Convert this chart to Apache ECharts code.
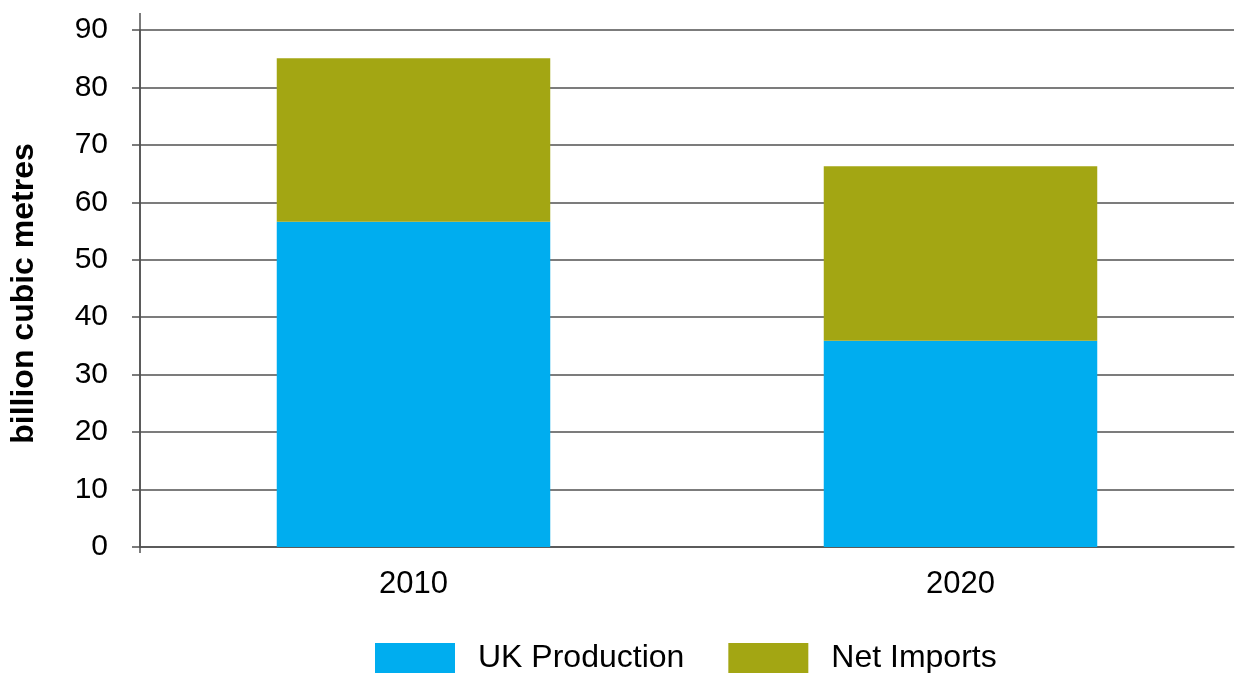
<!DOCTYPE html>
<html>
<head>
<meta charset="utf-8">
<script src="https://cdn.jsdelivr.net/npm/echarts@6/dist/echarts.min.js"></script>
<style>
html,body{margin:0;padding:0;background:#fff;}
#chart{width:1240px;height:673px;}
</style>
</head>
<body>
<div id="chart"></div>
<script>
var categories = ['2010', '2020'];
var ukProduction = [56.6, 35.9];
var netImports = [28.5, 30.4];
var seriesNames = ['UK Production', 'Net Imports'];
var yTicks = {min: 0, max: 90, interval: 10};
var yTitle = 'billion cubic metres';

var FONT = '"Liberation Sans", Arial, sans-serif';
var AXIS = '#505050';

var chart = echarts.init(document.getElementById('chart'));
chart.setOption({
  animation: false,
  textStyle: {fontFamily: FONT},
  grid: {left: 140, right: 6, top: 30, bottom: 126},
  legend: {
    data: seriesNames,
    left: 375,
    top: 639,
    padding: 0,
    itemWidth: 80,
    itemHeight: 30,
    itemGap: 44,
    icon: 'rect',
    textStyle: {fontFamily: FONT, fontSize: 32, color: '#000', padding: [0, 0, 0, 18], lineHeight: 38}
  },
  xAxis: {
    type: 'category',
    data: categories,
    axisLine: {show: true, lineStyle: {color: AXIS, width: 1.5}},
    axisTick: {show: false},
    axisLabel: {fontFamily: FONT, fontSize: 31, color: '#000', margin: 22}
  },
  yAxis: {
    type: 'value',
    min: yTicks.min,
    max: yTicks.max,
    interval: yTicks.interval,
    name: yTitle,
    nameLocation: 'middle',
    nameRotate: 90,
    nameGap: 100,
    nameTextStyle: {fontFamily: FONT, fontSize: 32, fontWeight: 'bold', color: '#000', padding: [0, 10, 0, 0]},
    axisLine: {show: true, lineStyle: {color: AXIS, width: 1.5}},
    axisTick: {show: true, inside: false, length: 8, lineStyle: {color: AXIS, width: 1.5}},
    axisLabel: {fontFamily: FONT, fontSize: 30, color: '#000', margin: 32},
    splitLine: {show: true, lineStyle: {color: AXIS, width: 1.5}}
  },
  graphic: [{
    type: 'line',
    shape: {x1: 140, y1: 13, x2: 140, y2: 553},
    style: {stroke: AXIS, lineWidth: 1.5},
    z: 100
  }],
  series: [
    {
      name: seriesNames[0],
      type: 'bar',
      stack: 'total',
      barWidth: '50%',
      data: ukProduction,
      itemStyle: {color: '#00ADEF'}
    },
    {
      name: seriesNames[1],
      type: 'bar',
      stack: 'total',
      barWidth: '50%',
      data: netImports,
      itemStyle: {color: '#A3A613'}
    }
  ]
});
</script>
</body>
</html>
